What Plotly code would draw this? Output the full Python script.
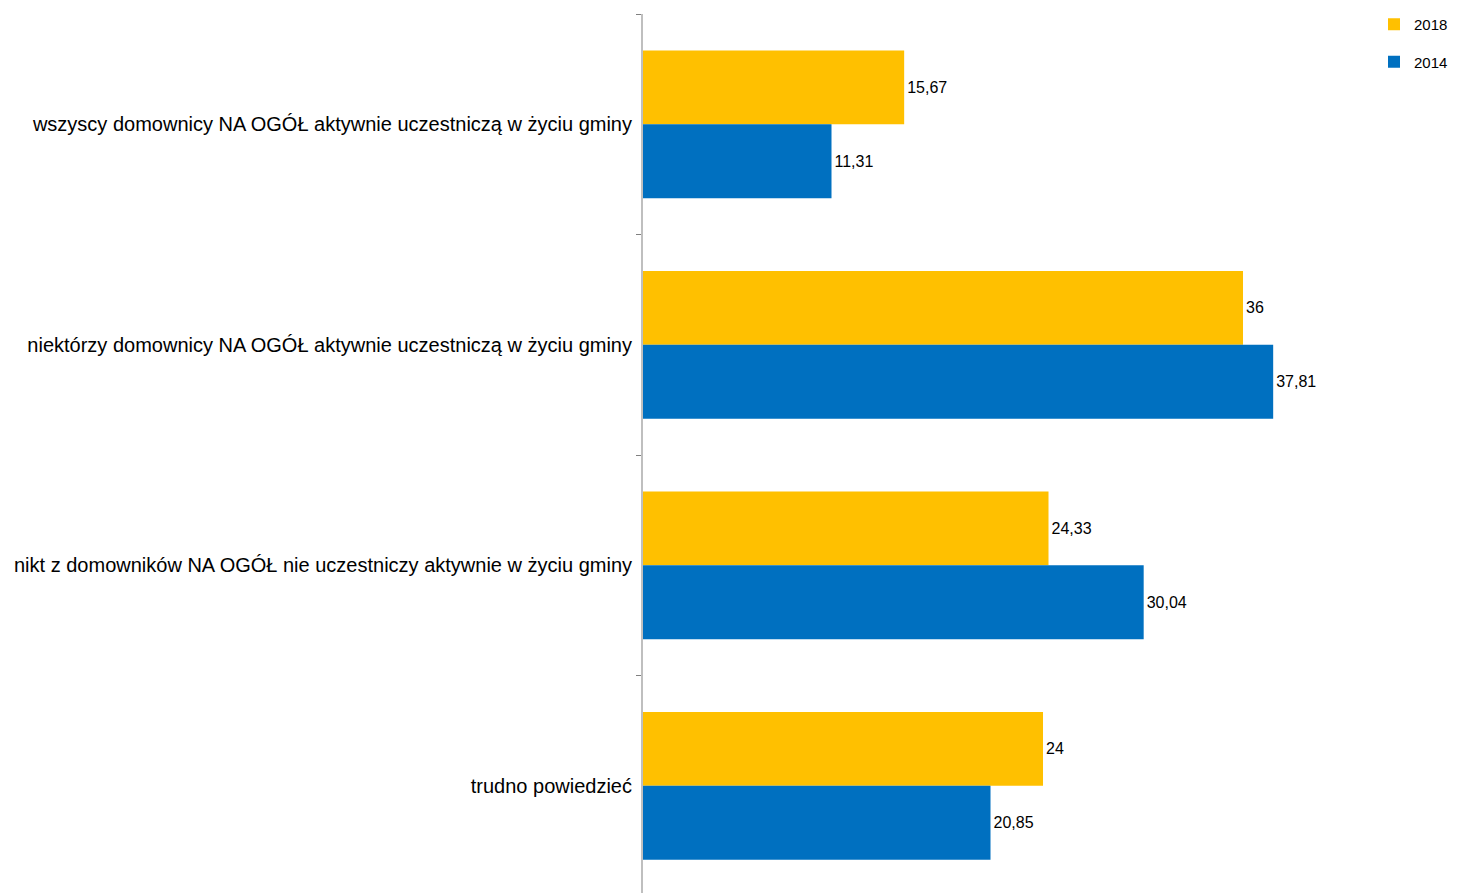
import plotly.graph_objects as go

categories = [
    "wszyscy domownicy NA OGÓŁ aktywnie uczestniczą w życiu gminy",
    "niektórzy domownicy NA OGÓŁ aktywnie uczestniczą w życiu gminy",
    "nikt z domowników NA OGÓŁ nie uczestniczy aktywnie w życiu gminy",
    "trudno powiedzieć",
]
values_2018 = [15.67, 36, 24.33, 24]
values_2014 = [11.31, 37.81, 30.04, 20.85]
labels_2018 = ["15,67", "36", "24,33", "24"]
labels_2014 = ["11,31", "37,81", "30,04", "20,85"]

FONT = "Liberation Sans, Arial, sans-serif"
OFF = 8  # page body margin offset

W, H = 1459 - OFF, 893 - OFF

fig = go.Figure()
fig.add_trace(go.Bar(
    y=categories, x=values_2018, name="2018", orientation="h",
    marker=dict(color="#FFC000", line=dict(width=0)),
    text=labels_2018, textposition="outside",
    textfont=dict(size=16, color="#000000", family=FONT),
    legendgroup="a", cliponaxis=False,
))
fig.add_trace(go.Bar(
    y=categories, x=values_2014, name="2014", orientation="h",
    marker=dict(color="#0070C0", line=dict(width=0)),
    text=labels_2014, textposition="outside",
    textfont=dict(size=16, color="#000000", family=FONT),
    legendgroup="b", cliponaxis=False,
))

left = 643 - OFF
right_margin = 100
plot_w = W - left - right_margin

fig.update_layout(
    width=W, height=H,
    margin=dict(l=left, r=right_margin, t=14 - OFF, b=0),
    plot_bgcolor="white", paper_bgcolor="white",
    barmode="group", bargap=0.33, bargroupgap=0,
    font=dict(family=FONT, color="#000000"),
    showlegend=True,
    legend=dict(
        xref="container", yref="container",
        x=(1414 - OFF - 40) / W, y=1.0, xanchor="left", yanchor="top",
        font=dict(size=15, family=FONT), traceorder="grouped",
        tracegroupgap=15, bgcolor="rgba(0,0,0,0)",
        itemwidth=30,
    ),
    xaxis=dict(
        range=[0, plot_w / 16.667], showgrid=False, zeroline=False,
        showticklabels=False, ticks="", showline=False,
    ),
    yaxis=dict(
        range=[3.486, -0.5], showgrid=False, zeroline=False,
        showline=True, linecolor="#BFBFBF", linewidth=2,
        ticks="outside", tickson="boundaries", ticklen=5, tickcolor="#808080",
        tickfont=dict(size=20, family=FONT, color="#000000"),
        ticklabelstandoff=5, automargin=False,
    ),
)

fig.write_html("out.html")
